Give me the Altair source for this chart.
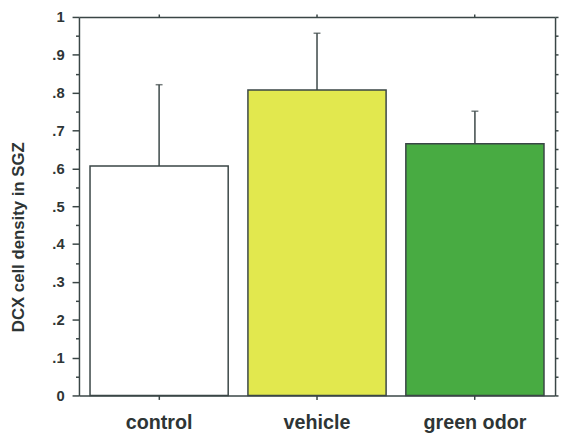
import altair as alt
import pandas as pd

groups = ["control", "vehicle", "green odor"]
means = [0.606, 0.807, 0.665]
upper = [0.821, 0.957, 0.751]
fills = ["#ffffff", "#e2e84e", "#48ab42"]

df = pd.DataFrame({"group": groups, "mean": means, "upper": upper})

ink = "#3a4646"
text_ink = "#2e3535"
font = "Liberation Sans"

all_ticks = [round(i * 0.05, 2) for i in range(21)]

xscale = alt.Scale(domain=groups, paddingInner=0.125, paddingOuter=0.07)
yscale = alt.Scale(domain=[0, 1], nice=False, zero=True)

label_expr = ("round(datum.value*100) % 10 != 0 ? '' : "
              "(datum.value < 0.001 ? '0' : (datum.value > 0.999 ? '1' : '.' + round(datum.value*10)))")

bars = alt.Chart(df).mark_bar(stroke=ink, strokeWidth=1.5).encode(
    x=alt.X("group:N", sort=groups, scale=xscale,
            axis=alt.Axis(orient="bottom", title=None, labelAngle=0, labelFont=font,
                          labelFontSize=20, labelFontWeight="bold", labelColor=text_ink,
                          tickSize=4, tickColor=ink, tickWidth=1.5, domainColor=ink,
                          domainWidth=1.5, labelPadding=14, grid=False)),
    y=alt.Y("mean:Q", scale=yscale,
            axis=alt.Axis(orient="left", values=all_ticks, labelExpr=label_expr,
                          title="DCX cell density in SGZ", titleFont=font, titleFontSize=17,
                          titleFontWeight="bold", titleColor=text_ink, titleX=-56.5, titleY=223,
                          titleAngle=270, titleBaseline="alphabetic", titleAlign="center",
                          labelFont=font, labelFontSize=15, labelFontWeight="bold",
                          labelColor=text_ink, labelPadding=8,
                          tickSize={"condition": {"test": "round(datum.value*100) % 10 == 0", "value": 7}, "value": 3.5},
                          tickColor=ink, tickWidth=1.5, domainColor=ink, domainWidth=1.5,
                          grid=False)),
    color=alt.Color("group:N", scale=alt.Scale(domain=groups, range=fills), legend=None),
)

rules = alt.Chart(df).mark_rule(color=ink, strokeWidth=1.5).encode(
    x=alt.X("group:N", sort=groups,
            axis=alt.Axis(orient="top", title=None, labels=False, tickSize=3, tickColor=ink,
                          tickWidth=1.5, domainColor=ink, domainWidth=1.5, grid=False)),
    y=alt.Y("mean:Q",
            axis=alt.Axis(orient="right", title=None, labels=False, values=all_ticks, tickSize=3,
                          tickColor=ink, tickWidth=1.5, domainColor=ink, domainWidth=1.5, grid=False)),
    y2="upper:Q",
)

caps = alt.Chart(df).mark_tick(color=ink, thickness=1.5, size=7).encode(
    x=alt.X("group:N", sort=groups, axis=None),
    y=alt.Y("upper:Q", axis=None),
)

chart = alt.layer(bars, rules, caps).resolve_axis(
    x="independent", y="independent"
).properties(
    width=483, height=384,
    autosize=alt.AutoSizeParams(type="none"),
    padding={"left": 72, "top": 6, "right": 4, "bottom": 35},
).configure_view(stroke=None)

chart.save("out.html", embed_options={"renderer": "svg", "actions": False})
